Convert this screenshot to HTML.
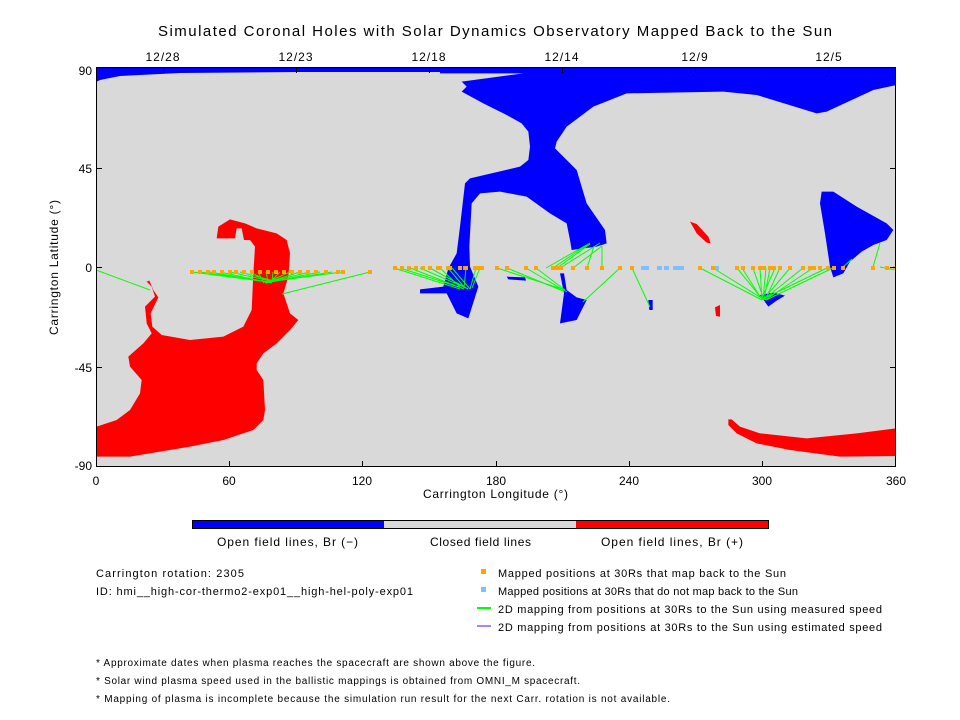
<!DOCTYPE html>
<html><head><meta charset="utf-8"><style>
body{margin:0;background:#fff;}
svg{display:block;font-family:"Liberation Sans",sans-serif;}
</style></head><body>
<svg width="960" height="720" viewBox="0 0 960 720" xmlns="http://www.w3.org/2000/svg">
<rect width="960" height="720" fill="#fff"/>
<text x="158" y="36" font-size="15" textLength="674" lengthAdjust="spacing">Simulated Coronal Holes with Solar Dynamics Observatory Mapped Back to the Sun</text>
<g font-size="12" text-anchor="middle" letter-spacing="1">
<text x="163" y="61">12/28</text><text x="296" y="61">12/23</text><text x="429" y="61">12/18</text><text x="562" y="61">12/14</text><text x="695" y="61">12/9</text><text x="829" y="61">12/5</text>
</g>
<clipPath id="pc"><rect x="96" y="67" width="800" height="400"/></clipPath>
<g clip-path="url(#pc)">
<rect x="96" y="67" width="800" height="400" fill="#d9d9d9"/>
<polygon fill="#0000ff" points="96,67 896,67 896,72 300,72 180,73 120,76 100,80 96,82"/>
<g transform="translate(440,60) scale(0.33333)">
<polygon fill="#0000ff" points="0,20 1370,20 1370,75 1300,90 1160,155 1130,160 950,105 850,95 560,100 460,140 380,200 350,245 345,265 370,290 410,330 440,430 495,510 500,550 470,560 395,570 390,540 380,490 330,460 260,410 180,395 120,400 95,430 88,560 90,620 115,680 85,775 50,760 20,700 -60,700 -60,688 10,680 25,625 50,580 60,500 75,370 90,355 240,320 265,300 270,260 265,215 245,190 200,165 130,130 65,95 80,80 65,65 250,40 0,40"/>
<polygon fill="#0000ff" points="360,640 372,700 360,790 410,780 440,720 410,712 380,690 372,640"/>
<polygon fill="#0000ff" points="200,650 255,652 258,662 205,658"/>
<polygon fill="#0000ff" points="625,720 638,720 638,750 628,750"/>
<polygon fill="#0000ff" points="960,705 985,740 1010,722 1035,707 1000,698"/>
<polygon fill="#0000ff" points="1145,395 1180,395 1250,440 1340,490 1360,510 1340,540 1300,555 1265,575 1230,605 1210,640 1180,652 1170,620 1155,520 1140,430"/>
<polygon fill="#ff0000" points="750,485 770,492 805,530 812,550 800,548 770,520"/>
<polygon fill="#ff0000" points="825,742 840,735 840,770 828,768"/>
<polygon fill="#ff0000" points="865,1078 875,1078 900,1100 960,1120 1100,1135 1250,1120 1370,1105 1370,1188 1200,1190 1050,1170 950,1150 890,1120 865,1095"/>
</g>
<g transform="translate(90,60) scale(0.33333)">
<polygon fill="#ff0000" points="20,1100 80,1080 120,1050 150,1000 155,960 120,920 115,890 160,850 185,820 170,790 165,740 195,710 185,680 170,665 178,662 190,690 205,712 182,760 187,800 215,825 300,840 400,830 460,800 485,750 490,640 495,560 480,540 462,540 455,505 440,505 435,535 380,535 385,500 420,478 465,490 500,505 560,520 590,540 600,580 595,650 580,700 600,760 625,780 600,810 560,850 520,880 500,910 500,930 520,960 525,1050 520,1080 490,1110 400,1140 300,1160 120,1190 20,1190"/>
</g>
<g stroke="#00ff00" stroke-width="1" fill="none">
<path d="M96,270L150,290 M370,272L282,294 M192,272L268,282 M200,272L270,282 M210,272L272,283 M220,272L266,282 M230,272L270,281 M240,272L274,281 M250,272L270,282 M258,272L264,283 M266,272L268,281 M273,272L272,281 M280,272L270,282 M290,272L265,283 M300,272L268,282 M310,272L272,281 M320,272L266,283 M332,272L270,282 M342,272L275,281"/>
<path d="M394,268L460,289 M400,268L462,288 M410,268L464,289 M420,268L466,288 M430,268L468,289 M440,268L460,287 M448,268L465,288 M452,268L470,289 M466,268L464,288 M476,268L470,289 M480,268L472,288"/>
<path d="M497,268L565,290 M507,268L563,291 M526,268L567,292 M536,268L565,290 M553,268L587,245 M557,268L590,244 M560,268L600,243 M573,268L602,246 M587,268L594,246 M602,268L602,247 M620,268L583,302 M632,268L650,307 M546,268L590,243"/>
<path d="M700,268L762,300 M713,268L763,299 M737,268L763,300 M742,268L761,298 M753,268L764,300 M760,268L762,300 M766,268L763,299 M770,268L764,300 M775,268L762,298 M780,268L765,300 M790,268L764,299 M803,268L763,300 M813,268L765,300 M827,268L763,299 M833,268L766,300 M843,267L852,259 M873,267L880,243 M880,267L896,270"/>
</g>
<g fill="#ffa500">
<path d="M190,270h4v4h-4z M198,270h4v4h-4z M206,270h4v4h-4z M212,270h4v4h-4z M220,270h4v4h-4z M228,270h4v4h-4z M234,270h4v4h-4z M242,270h4v4h-4z M250,270h4v4h-4z M258,270h4v4h-4z M266,270h4v4h-4z M274,270h4v4h-4z M282,270h4v4h-4z M290,270h4v4h-4z M298,270h4v4h-4z M306,270h4v4h-4z M314,270h4v4h-4z M324,270h4v4h-4z M336,270h4v4h-4z M341,270h4v4h-4z M368,270h4v4h-4z"/>
<path d="M393,266h4v4h-4z M400,266h4v4h-4z M407,266h4v4h-4z M414,266h4v4h-4z M421,266h4v4h-4z M428,266h4v4h-4z M436,266h4v4h-4z M446,266h4v4h-4z M458,266h4v4h-4z M464,266h4v4h-4z M474,266h4v4h-4z M480,266h4v4h-4z"/>
<path d="M438,266h4v4h-4z M448,266h4v4h-4z M463,266h4v4h-4z M473,266h4v4h-4z M478,266h4v4h-4z M495,266h4v4h-4z M505,266h4v4h-4z M524,266h4v4h-4z M534,266h4v4h-4z M551,266h4v4h-4z M555,266h4v4h-4z M559,266h4v4h-4z M571,266h4v4h-4z M585,266h4v4h-4z M600,266h4v4h-4z M618,266h4v4h-4z M630,266h4v4h-4z"/>
<path d="M698,266h4v4h-4z M711,266h4v4h-4z M735,266h4v4h-4z M741,266h4v4h-4z M751,266h4v4h-4z M758,266h4v4h-4z M762,266h4v4h-4z M768,266h4v4h-4z M772,266h4v4h-4z M778,266h4v4h-4z M788,266h4v4h-4z M801,266h4v4h-4z M808,266h4v4h-4z M812,266h4v4h-4z M818,266h4v4h-4z M826,266h4v4h-4z M832,266h4v4h-4z M841,266h4v4h-4z M871,266h4v4h-4z M885,266h4v4h-4z M893,266h4v4h-4z"/>
</g>
<g fill="#80bfff">
<path d="M641,266h8v4h-8z M657,266h5v4h-5z M664,266h5v4h-5z M673,266h11v4h-11z M715,266h4v4h-4z"/>
</g>
</g>
<rect x="96.5" y="67.5" width="799" height="399" fill="none" stroke="#000" stroke-width="1"/>
<g stroke="#000" stroke-width="1">
<path d="M96,168.5h6 M96,267.5h6 M96,367.5h6 M890,168.5h6 M890,267.5h6 M890,367.5h6"/>
<path d="M229.5,467v-6 M362.5,467v-6 M496.5,467v-6 M629.5,467v-6 M762.5,467v-6"/>
<path d="M163.5,67v6 M296.5,67v6 M429.5,67v6 M562.5,67v6 M695.5,67v6 M829.5,67v6"/>
</g>
<g font-size="12" text-anchor="end">
<text x="92" y="75">90</text><text x="92" y="173">45</text><text x="92" y="272">0</text><text x="92" y="372">-45</text><text x="92" y="470">-90</text>
</g>
<g font-size="12" text-anchor="middle">
<text x="96" y="485">0</text><text x="229" y="485">60</text><text x="362" y="485">120</text><text x="496" y="485">180</text><text x="629" y="485">240</text><text x="762" y="485">300</text><text x="896" y="485">360</text>
</g>
<text x="423" y="498" font-size="12" textLength="145" lengthAdjust="spacing">Carrington Longitude (°)</text>
<text transform="translate(58,335) rotate(-90)" font-size="12" textLength="135" lengthAdjust="spacing">Carrington Latitude (°)</text>
<rect x="192" y="521" width="192" height="8" fill="#0000ff"/>
<rect x="384" y="521" width="192" height="8" fill="#d9d9d9"/>
<rect x="576" y="521" width="192" height="8" fill="#ff0000"/>
<rect x="192.5" y="520.5" width="576" height="8" fill="none" stroke="#000"/>
<g font-size="12">
<text x="217" y="546" textLength="141" lengthAdjust="spacing">Open field lines, Br (−)</text>
<text x="430" y="546" textLength="101" lengthAdjust="spacing">Closed field lines</text>
<text x="601" y="546" textLength="142" lengthAdjust="spacing">Open field lines, Br (+)</text>
</g>
<g font-size="11">
<text x="96" y="577" textLength="148" lengthAdjust="spacing">Carrington rotation: 2305</text>
<text x="96" y="595" textLength="317" lengthAdjust="spacing">ID: hmi__high-cor-thermo2-exp01__high-hel-poly-exp01</text>
<rect x="481" y="569" width="5" height="5" fill="#ffa500"/>
<rect x="481" y="587" width="5" height="5" fill="#80bfff"/>
<rect x="477" y="607" width="14" height="2" fill="#00ff00"/>
<rect x="477" y="625" width="14" height="2" fill="#b080ff"/>
<text x="498" y="577" textLength="288" lengthAdjust="spacing">Mapped positions at 30Rs that map back to the Sun</text>
<text x="498" y="595" textLength="300" lengthAdjust="spacing">Mapped positions at 30Rs that do not map back to the Sun</text>
<text x="498" y="613" textLength="384" lengthAdjust="spacing">2D mapping from positions at 30Rs to the Sun using measured speed</text>
<text x="498" y="631" textLength="384" lengthAdjust="spacing">2D mapping from positions at 30Rs to the Sun using estimated speed</text>
</g>
<g font-size="10">
<text x="96" y="666" textLength="439" lengthAdjust="spacing">* Approximate dates when plasma reaches the spacecraft are shown above the figure.</text>
<text x="96" y="684" textLength="484" lengthAdjust="spacing">* Solar wind plasma speed used in the ballistic mappings is obtained from OMNI_M spacecraft.</text>
<text x="96" y="702" textLength="574" lengthAdjust="spacing">* Mapping of plasma is incomplete because the simulation run result for the next Carr. rotation is not available.</text>
</g>
</svg>
</body></html>
